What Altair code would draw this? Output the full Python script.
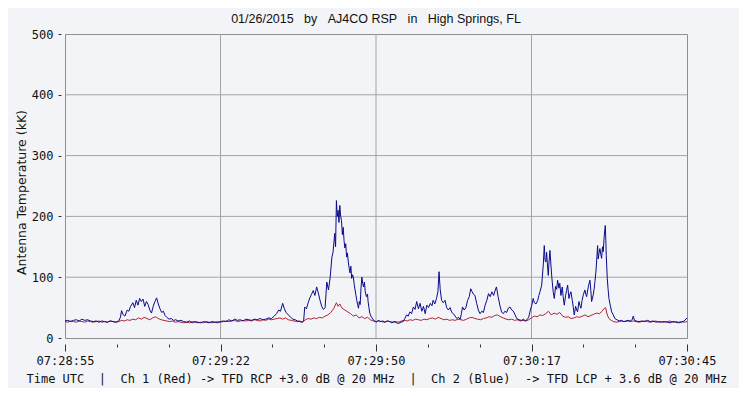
import json
import altair as alt
import pandas as pd

# ---- data (seconds after 07:28:55, antenna temperature in kK)
blue = [
    (0, 28), (0.5, 29), (1, 27), (1.5, 29), (2, 30), (2.5, 28), (3, 31), (3.5, 29), (4, 30), (4.5, 28),
    (5, 27), (5.5, 28), (6, 26), (6.5, 28), (7, 27), (7.5, 26), (8, 28), (8.5, 27), (9, 26), (9.5, 28),
    (9.8, 34), (10, 45), (10.3, 38), (10.6, 36), (11, 46), (11.3, 44), (11.6, 52), (12, 58), (12.3, 50),
    (12.6, 62), (12.9, 54), (13.2, 65), (13.5, 60), (13.8, 64), (14.1, 52), (14.4, 60), (14.7, 55),
    (15.0, 46), (15.3, 41), (15.6, 52), (15.9, 60), (16.2, 66), (16.5, 56), (16.8, 48), (17.1, 42),
    (17.4, 44), (17.7, 37), (18, 34), (18.4, 31), (18.8, 32), (19.2, 29), (19.6, 30),
    (20, 28), (20.5, 29), (21, 27), (21.5, 26), (22, 28), (22.5, 25), (23, 27), (23.5, 26), (24, 25),
    (24.5, 27), (25, 26), (25.5, 25), (26, 27), (26.5, 26), (27, 25), (27.5, 27), (28, 28), (28.5, 27),
    (29, 30), (29.5, 28), (30, 31), (30.5, 29), (31, 30), (31.5, 28), (32, 31), (32.5, 30), (33, 29),
    (33.5, 31), (34, 30), (34.5, 32), (35, 30), (35.5, 31), (36, 33), (36.5, 32), (37, 36), (37.4, 40),
    (37.8, 46), (38.1, 44), (38.5, 57), (38.8, 48), (39.1, 42), (39.5, 38), (39.9, 34), (40.3, 31),
    (40.7, 30), (41.1, 28), (41.5, 27), (41.9, 26), (42.2, 28),
    (42.4, 51), (42.7, 48), (43.0, 58), (43.3, 66), (43.6, 72), (43.9, 78), (44.2, 70), (44.5, 84),
    (44.8, 74), (45.1, 62), (45.4, 52), (45.7, 47), (46.0, 50), (46.3, 92), (46.6, 79), (46.9, 100),
    (47.2, 133), (47.4, 141), (47.7, 172), (47.85, 150), (48.0, 226), (48.15, 200), (48.3, 210),
    (48.45, 190), (48.6, 218), (48.75, 200), (48.9, 193), (49.05, 170), (49.2, 182), (49.35, 160),
    (49.5, 148), (49.65, 155), (49.8, 133), (49.95, 140), (50.1, 125), (50.25, 115), (50.4, 107),
    (50.55, 118), (50.7, 98), (50.85, 104), (51.0, 100), (51.15, 88), (51.3, 79), (51.45, 70),
    (51.6, 62), (51.75, 55), (51.9, 49), (52.05, 60), (52.2, 55), (52.35, 82), (52.5, 100),
    (52.65, 90), (52.8, 84), (52.95, 92), (53.1, 76), (53.3, 68), (53.5, 72), (53.6, 60), (53.75, 50),
    (53.9, 41), (54.1, 36), (54.3, 33), (54.5, 30), (54.8, 28), (55.1, 26), (55.4, 29),
    (55.8, 27), (56.2, 28), (56.6, 26), (57, 28), (57.4, 27), (57.8, 25), (58.2, 27), (58.6, 25),
    (59, 24), (59.4, 26), (59.8, 27),
    (60.1, 32), (60.4, 38), (60.7, 36), (61.0, 43), (61.3, 40), (61.6, 51), (61.9, 47), (62.2, 60),
    (62.5, 48), (62.8, 57), (63.1, 44), (63.4, 52), (63.7, 40), (64.0, 54), (64.3, 50), (64.6, 57),
    (64.9, 53), (65.1, 62), (65.4, 56), (65.7, 65), (65.95, 76), (66.15, 109), (66.35, 80),
    (66.6, 62), (66.9, 58), (67.2, 62), (67.5, 50), (67.8, 46), (68.1, 50), (68.4, 42), (68.7, 40),
    (69.0, 36), (69.3, 32), (69.6, 34), (69.9, 31), (70.1, 40), (70.3, 51), (70.6, 46), (70.9, 50),
    (71.2, 62), (71.5, 68), (71.75, 81), (72.0, 76), (72.25, 72), (72.5, 70), (72.8, 57), (73.1, 46),
    (73.4, 40), (73.7, 44), (74.0, 42), (74.3, 54), (74.6, 62), (74.9, 73), (75.2, 68), (75.5, 76),
    (75.8, 70), (76.1, 79), (76.3, 84), (76.6, 68), (76.9, 54), (77.2, 43), (77.5, 40), (77.8, 44),
    (78.1, 42), (78.4, 49), (78.7, 51), (79.0, 46), (79.3, 44), (79.6, 38), (79.9, 32), (80.3, 30),
    (80.7, 29), (81.1, 31), (81.4, 28), (81.7, 30),
    (82.0, 34), (82.3, 46), (82.55, 54), (82.8, 65), (83.0, 58), (83.3, 56), (83.6, 62), (83.8, 70),
    (84.0, 76), (84.3, 87), (84.58, 120), (84.76, 152), (84.9, 128), (85.05, 125), (85.17, 141),
    (85.32, 120), (85.47, 103), (85.6, 125), (85.76, 144), (85.94, 120), (86.05, 105), (86.17, 92),
    (86.35, 75), (86.53, 65), (86.76, 85), (86.95, 80), (87.12, 95), (87.35, 82), (87.5, 90),
    (87.7, 70), (87.94, 84), (88.1, 68), (88.3, 54), (88.53, 70), (88.7, 78), (88.89, 87),
    (89.12, 65), (89.3, 72), (89.47, 76), (89.71, 62), (89.9, 50), (90.06, 38), (90.3, 52),
    (90.5, 46), (90.65, 43), (90.89, 60), (91.05, 54), (91.24, 49), (91.45, 62), (91.66, 71),
    (91.95, 79), (92.1, 72), (92.25, 68), (92.54, 84), (92.83, 95), (93.0, 78), (93.13, 60),
    (93.42, 71), (93.6, 82), (93.72, 93), (93.9, 110), (94.01, 125), (94.19, 152), (94.3, 130),
    (94.43, 139), (94.6, 147), (94.75, 138), (94.9, 131), (95.05, 150), (95.19, 142), (95.37, 169),
    (95.55, 185), (95.65, 160), (95.72, 136), (95.9, 98), (96.05, 80), (96.19, 65), (96.43, 54),
    (96.67, 43), (96.96, 38), (97.25, 32), (97.6, 30), (98.0, 28), (98.4, 29), (98.8, 27),
    (99.2, 28), (99.6, 29), (100.0, 28), (100.3, 30), (100.5, 36), (100.7, 29), (101.0, 28),
    (101.5, 27), (102, 28), (102.5, 27), (103, 29), (103.5, 27), (104, 28), (104.5, 26), (105, 27),
    (105.5, 26), (106, 27), (106.5, 26), (107, 25), (107.5, 27), (108, 26), (108.5, 25), (109, 26),
    (109.5, 28), (110, 33),
]

red = [
    (0, 27), (0.5, 26), (1, 28), (1.5, 27), (2, 26), (2.5, 28), (3, 27), (3.5, 26), (4, 28), (4.5, 27),
    (5, 26), (5.5, 27), (6, 28), (6.5, 26), (7, 27), (7.5, 26), (8, 28), (8.5, 27), (9, 26), (9.5, 27),
    (10, 29), (10.5, 28), (11, 30), (11.5, 29), (12, 31), (12.5, 30), (13, 33), (13.5, 31), (14, 34),
    (14.5, 32), (15, 30), (15.5, 33), (16, 35), (16.5, 32), (17, 30), (17.5, 29), (18, 28), (18.5, 27),
    (19, 28), (19.5, 26), (20, 27), (20.5, 26), (21, 25), (21.5, 26), (22, 25), (22.5, 27), (23, 26),
    (23.5, 25), (24, 26), (24.5, 25), (25, 27), (25.5, 26), (26, 25), (26.5, 26), (27, 27), (27.5, 26),
    (28, 27), (28.5, 28), (29, 27), (29.5, 28), (30, 29), (30.5, 27), (31, 28), (31.5, 29), (32, 28),
    (32.5, 29), (33, 28), (33.5, 30), (34, 29), (34.5, 28), (35, 30), (35.5, 29), (36, 31), (36.5, 30),
    (37, 31), (37.5, 32), (38, 33), (38.5, 31), (39, 33), (39.5, 30), (40, 29), (40.5, 28), (41, 27),
    (41.5, 28), (42, 26), (42.5, 30), (43, 32), (43.5, 31), (44, 33), (44.5, 32), (45, 34), (45.5, 33),
    (46, 36), (46.5, 38), (47, 42), (47.5, 48), (48, 58), (48.3, 52), (48.6, 56), (49, 49), (49.5, 46),
    (50, 43), (50.5, 40), (51, 36), (51.5, 38), (52, 33), (52.5, 35), (53, 32), (53.5, 34), (54, 30),
    (54.5, 28), (55, 27), (55.5, 28), (56, 27), (56.5, 26), (57, 28), (57.5, 27), (58, 26), (58.5, 27),
    (59, 26), (59.5, 28), (60, 29), (60.5, 28), (61, 30), (61.5, 29), (62, 31), (62.5, 30), (63, 29),
    (63.5, 31), (64, 30), (64.5, 32), (65, 33), (65.5, 31), (66, 34), (66.5, 32), (67, 30), (67.5, 31),
    (68, 29), (68.5, 30), (69, 29), (69.5, 31), (70, 30), (70.5, 29), (71, 31), (71.5, 33), (72, 34),
    (72.5, 32), (73, 31), (73.5, 30), (74, 32), (74.5, 33), (75, 35), (75.5, 34), (76, 37), (76.5, 38),
    (77, 35), (77.5, 33), (78, 31), (78.5, 30), (79, 31), (79.5, 29), (80, 30), (80.5, 28), (81, 29),
    (81.5, 28), (82, 30), (82.5, 33), (83, 36), (83.5, 35), (84, 38), (84.5, 37), (85, 40), (85.5, 44),
    (86, 38), (86.5, 41), (87, 39), (87.5, 42), (88, 36), (88.5, 34), (89, 35), (89.5, 32), (90, 33),
    (90.5, 35), (91, 34), (91.5, 36), (92, 38), (92.5, 35), (93, 37), (93.5, 39), (94, 41), (94.5, 40),
    (95, 44), (95.3, 48), (95.6, 50), (95.9, 38), (96.2, 32), (96.6, 29), (97, 27), (97.5, 26), (98, 27),
    (98.5, 28), (99, 27), (99.5, 28), (100, 27), (100.5, 28), (101, 27), (101.5, 26), (102, 27),
    (102.5, 28), (103, 27), (103.5, 26), (104, 27), (104.5, 28), (105, 26), (105.5, 27), (106, 26),
    (106.5, 27), (107, 28), (107.5, 26), (108, 27), (108.5, 26), (109, 27), (109.5, 26), (110, 27),
]

x_major = [0, 27.5, 55, 82.5, 110]
x_major_labels = ["07:28:55", "07:29:22", "07:29:50", "07:30:17", "07:30:45"]
x_ticks = [i * 110 / 24 for i in range(25)]
y_ticks = list(range(0, 501, 25))
y_grid = [100, 200, 300, 400]
x_grid = [27.5, 55, 82.5]

NB = "\u00a0"
title_text = f"01/26/2015{NB*3}by{NB*3}AJ4CO RSP{NB*3}in{NB*3}High Springs, FL"
bottom_text = (f"Time UTC{NB*2}|{NB*2}Ch 1 (Red) -> TFD RCP +3.0 dB @ 20 MHz{NB*2}|{NB*2}"
               f"Ch 2 (Blue){NB*2}-> TFD LCP + 3.6 dB @ 20 MHz")

df_blue = pd.DataFrame(blue, columns=["t", "val"])
df_red = pd.DataFrame(red, columns=["t", "val"])
df_xg = pd.DataFrame({"t": x_grid})
df_yg = pd.DataFrame({"val": y_grid})
df_title = pd.DataFrame({"label": [title_text]})

BG = "#f3f4f7"
GRID = "#a4a4a4"
TXT = "#111111"
MONO = "DejaVu Sans Mono"
PLOT_W, PLOT_H = 622, 304

major_test = f"indexof({json.dumps(x_major)}, datum.value) >= 0"
x_label_expr = (f"{major_test} ? {json.dumps(x_major_labels)}"
                f"[indexof({json.dumps(x_major)}, datum.value)] : ''")

x_scale = alt.Scale(domain=[0, 110], nice=False, zero=False)
y_scale = alt.Scale(domain=[0, 500], nice=False)

x_axis = alt.Axis(
    values=x_ticks, labelExpr=x_label_expr, grid=False, domain=False, offset=6,
    tickSize={"condition": {"test": major_test, "value": 7}, "value": 3},
    tickColor="#333333", tickWidth=1,
    labelFont=MONO, labelFontSize=12, labelColor=TXT, labelPadding=4,
    labelFlush=False, labelOverlap=False,
    title=bottom_text, titleFont=MONO, titleFontSize=12, titleFontWeight="normal",
    titleColor=TXT, titleX=-39, titleY=38.5, titleAlign="left", titleBaseline="alphabetic",
)
y_axis = alt.Axis(
    values=y_ticks, labelExpr="datum.value % 100 == 0 ? datum.label : ''",
    grid=False, domain=False, offset=4, tickSize=3, tickColor="#333333",
    labelFont=MONO, labelFontSize=12, labelColor=TXT, labelPadding=5, labelFlush=False,
    labelOverlap=False,
    title="Antenna Temperature (kK)", titleFont="DejaVu Sans", titleFontSize=12.5,
    titleFontWeight="normal", titleColor=TXT, titleX=-35.5, titleY=158,
    titleBaseline="alphabetic", titleAlign="center",
)

xgrid = alt.Chart(df_xg).mark_rule(color=GRID, strokeWidth=1).encode(
    x=alt.X("t:Q", scale=x_scale, axis=x_axis)
)
ygrid = alt.Chart(df_yg).mark_rule(color=GRID, strokeWidth=1).encode(
    y=alt.Y("val:Q", scale=y_scale, axis=y_axis)
)
red_line = alt.Chart(df_red).mark_line(color="#b02234", strokeWidth=1).encode(
    x=alt.X("t:Q", scale=x_scale), y=alt.Y("val:Q", scale=y_scale)
)
blue_line = alt.Chart(df_blue).mark_line(color="#0a0a8a", strokeWidth=1).encode(
    x=alt.X("t:Q", scale=x_scale), y=alt.Y("val:Q", scale=y_scale)
)
title_mark = alt.Chart(df_title).mark_text(
    font="Liberation Sans", fontSize=12.5, color=TXT, align="center", baseline="alphabetic"
).encode(
    text="label:N", x=alt.value(PLOT_W / 2), y=alt.value(-10.7)
)

chart = (
    alt.layer(xgrid, ygrid, red_line, blue_line, title_mark)
    .properties(
        width=PLOT_W, height=PLOT_H,
        autosize=alt.AutoSizeParams(type="none"),
        padding={"left": 57, "top": 26, "right": 52, "bottom": 50},
        background=BG,
    )
    .configure_view(stroke="#8f8f8f", strokeWidth=1, fill=BG)
)

chart.save("out.html", embed_options={"renderer": "svg", "actions": False})
